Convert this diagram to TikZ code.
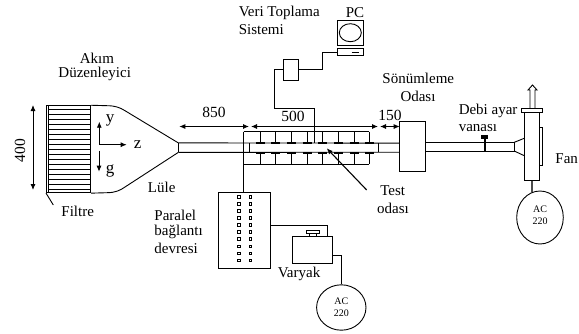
\documentclass[tikz,border=0pt]{standalone}
\usepackage{fontspec}
\setmainfont{Liberation Serif}
\usetikzlibrary{arrows.meta,shapes.geometric}
\tikzset{
  x=1pt,y=-1pt,
  every path/.style={line width=0.9pt},
  >={Latex[length=6pt,width=5pt]},
  lbl/.style={inner sep=0pt,font=\fontsize{15}{16}\selectfont},
  numlbl/.style={inner sep=0pt,font=\fontsize{15.5}{16}\selectfont},
  lblleft/.style={lbl,anchor=west},
  axlbl/.style={inner sep=0pt,font=\fontsize{17}{18}\selectfont},
  small/.style={inner sep=0pt,align=center,font=\fontsize{10}{12}\selectfont},
  box/.style={draw,inner sep=0pt,fill=white},
  sensor/.style={line width=2pt},
}
\begin{document}
\begin{tikzpicture}
\useasboundingbox (0,0) rectangle (579,333);
% filter
\foreach \i in {0,...,16} \draw (48.7,{109.5+\i*5}) -- (90.7,{109.5+\i*5});
\node[box,fill=none,minimum width=44.2pt,minimum height=87pt] (filt) at (68.6,149.2) {};
\draw (48.9,105.7) -- (48.9,192.7);
% nozzle
\coordinate (nzt) at (178.3,142.9);
\coordinate (nzb) at (178.3,152.4);
\draw (filt.north east) -- (107,105.7) .. controls (115,105.7) and (120,107.5) .. (125,110.7) -- (nzt);
\draw (filt.south east) -- (107,192.7) .. controls (115,192.7) and (120,190.5) .. (125,187) -- (nzb);
\draw (nzt) -- (nzb);
% pipe
\coordinate (p1) at (399.7,143.1);
\coordinate (p2) at (399.7,152.2);
\draw (nzt) -- (p1);
\draw (nzb) -- (p2);
\draw (249.3,143.1) -- (249.3,152.4);
\draw (378,143.1) -- (378,152.4);
% manifolds
\coordinate (mtl) at (243.5,131.7);
\coordinate (mbl) at (243.5,164.3);
\draw (mtl) -- (369.3,131.7);
\draw (mbl) -- (369.3,164.3);
\foreach \x in {260,275.7,291.3,307,322.3,338.3,354,369.3} {
  \draw (\x,131.7) -- (\x,143.1);
  \draw (\x,152.4) -- (\x,164.3);
  \draw[sensor] (\x-4.5,143.3) -- (\x+4.5,143.3);
  \draw[sensor] (\x-4.5,152.5) -- (\x+4.5,152.5);
}
% parallel circuit box
\node[box,minimum width=51.3pt,minimum height=76.7pt] (par) at (244.3,230.3) {};
\draw (mtl) -- (par.north -| mtl);
\foreach \r in {0,...,9} {
  \node[draw,line width=0.7pt,inner sep=0pt,minimum size=2.6pt] (sa\r) at (239,{196.7+\r*7.07}) {};
  \node[draw,line width=0.7pt,inner sep=0pt,minimum size=2.6pt] (sb\r) at (250.3,{196.7+\r*7.07}) {};
}
% Varyak
\node[box,minimum width=40pt,minimum height=26.6pt] (var) at (312.3,250) {};
\node[box,minimum width=13.3pt,minimum height=3pt] (knob) at (312.7,231.8) {};
\draw (309,233.3) -- (309,236.7);
\draw (316.7,233.3) -- (316.7,236.7);
\coordinate (vt) at (327.3,236.7);
\draw (par.east |- 0,225.7) -- (327.3,225.7) -- (vt);
\draw[line width=1.6pt] (327.3,233) -- (vt);
\node[draw,ellipse,inner sep=0pt,minimum width=49.4pt,minimum height=45.4pt,small] (ac1) at (341.3,307.5) {AC\\220};
\draw (var.east |- 0,255) -| (ac1.north);
% DAQ and PC
\node[box,minimum width=14.7pt,minimum height=21.3pt] (daq) at (290.6,69.6) {};
\node[box,minimum width=26.3pt,minimum height=24.3pt] (mon) at (350.2,32.8) {};
\node[draw,ellipse,inner sep=0pt,minimum width=22pt,minimum height=18pt] (scr) at (350.3,32.7) {};
\node[box,minimum width=25.7pt,minimum height=6.6pt] (kbd) at (350.2,52) {};
\draw (351.7,52) -- (359.3,52);
\draw (daq.east) -- (322.7,69.6) -- (322.7,52) -- (kbd.west);
\coordinate (prb) at (314.3,143.1);
\draw (daq.west) -- (274.7,69.6) -- (274.7,108) -- (314.3,108) -- (prb);
% dimension lines
\coordinate (d0) at (179.3,126.5);
\coordinate (d1) at (249,126.5);
\coordinate (d2) at (251,126.5);
\coordinate (d3) at (378,126.5);
\coordinate (d4) at (380,126.5);
\draw[<->] (d0) -- (d1);
\draw[<->] (d2) -- (d3);
\draw[<->] (d4) -- (399.7,126.5);
\coordinate (d5) at (33,105);
\coordinate (d6) at (33,190);
\draw[<->] (d5) -- (d6);
% axes
\coordinate (o) at (99.3,144.7);
\coordinate (ay) at (99.3,121.7);
\coordinate (az) at (126.7,144.7);
\coordinate (g1) at (99,150.7);
\coordinate (g2) at (99,171.7);
\draw[->] (o) -- (ay);
\draw[->] (o) -- (az);
\draw[->] (g1) -- (g2);
% Filtre leader, test arrow
\coordinate (fl) at (53.3,205);
\draw (filt.south west) -- (fl);
\coordinate (t1) at (366.7,190);
\coordinate (t2) at (326.7,148.3);
\draw[->,line width=1.1pt] (t1) -- (t2);
% downstream
\node[box,minimum width=25.6pt,minimum height=49.3pt] (sn) at (412.5,146.4) {};
\coordinate (q1) at (514.3,142.3);
\coordinate (q2) at (514.3,151);
\draw (sn.east |- q1) -- (q1) -- (q2) -- (sn.east |- q2);
% valve
\draw[line width=2pt] (484.7,138) -- (484.7,151);
\fill (481,134.7) rectangle (488.3,138.7);
% fan
\node[box,minimum width=14.6pt,minimum height=68.3pt] (fan) at (532,145.9) {};
\draw (q1) -- (fan.west |- 0,138.3);
\draw (q2) -- (fan.west |- 0,155.7);
\draw (539.3,127.3) -- (542.3,127.3) -- (542.3,165.3) -- (539.3,165.3);
\draw (530,108) -- (530,90) -- (528,90) -- (532.5,85) -- (537,90) -- (535,90) -- (535,108);
\node[box,minimum width=21.4pt,minimum height=4.3pt] (cap) at (532,110.1) {};
\node[draw,ellipse,inner sep=0pt,minimum width=46.6pt,minimum height=53pt] (ac2) at (540,217.5) {};
\node[small] (ac2t) at (540,215.5) {AC\\220};
\coordinate (ac2top) at (532,191.8);
\draw[line width=1.3pt,black!70] (fan.south) -- (ac2top);
% labels
\node[numlbl] (t400) at (20,150.7) {\rotatebox{90}{400}};
\node[axlbl] (ly) at (110,120) {y};
\node[axlbl] (lz) at (137.7,144.7) {z};
\node[axlbl] (lg) at (110,170.7) {g};
\node[lbl] (l1) at (97,58) {Akım};
\node[lbl] (l2) at (94.7,74.3) {Düzenleyici};
\node[lbl] (l3) at (161.7,187) {Lüle};
\node[lbl] (l4) at (77.7,211.7) {Filtre};
\node[numlbl] (l5) at (214,112.7) {850};
\node[numlbl] (l6) at (293,116) {500};
\node[numlbl] (l7) at (390,115.7) {150};
\node[lblleft] (l8) at (238.3,13.3) {Veri Toplama};
\node[lblleft] (l9) at (238.3,29.3) {Sistemi};
\node[lbl] (l10) at (355,12.3) {PC};
\node[lbl] (l11) at (418.3,78.3) {Sönümleme};
\node[lbl] (l12) at (418,96) {Odası};
\node[lblleft] (l13) at (458.3,110.7) {Debi ayar};
\node[lblleft] (l14) at (458.3,127.7) {vanası};
\node[lbl] (l15) at (566.7,159) {Fan};
\node[lbl] (l16) at (392.7,190.5) {Test};
\node[lbl] (l17) at (393,208) {odası};
\node[lblleft] (l18) at (154,215) {Paralel};
\node[lblleft] (l19) at (154,231.5) {bağlantı};
\node[lblleft] (l20) at (154,248) {devresi};
\node[lbl] (l21) at (299,274) {Varyak};
\end{tikzpicture}
\end{document}
